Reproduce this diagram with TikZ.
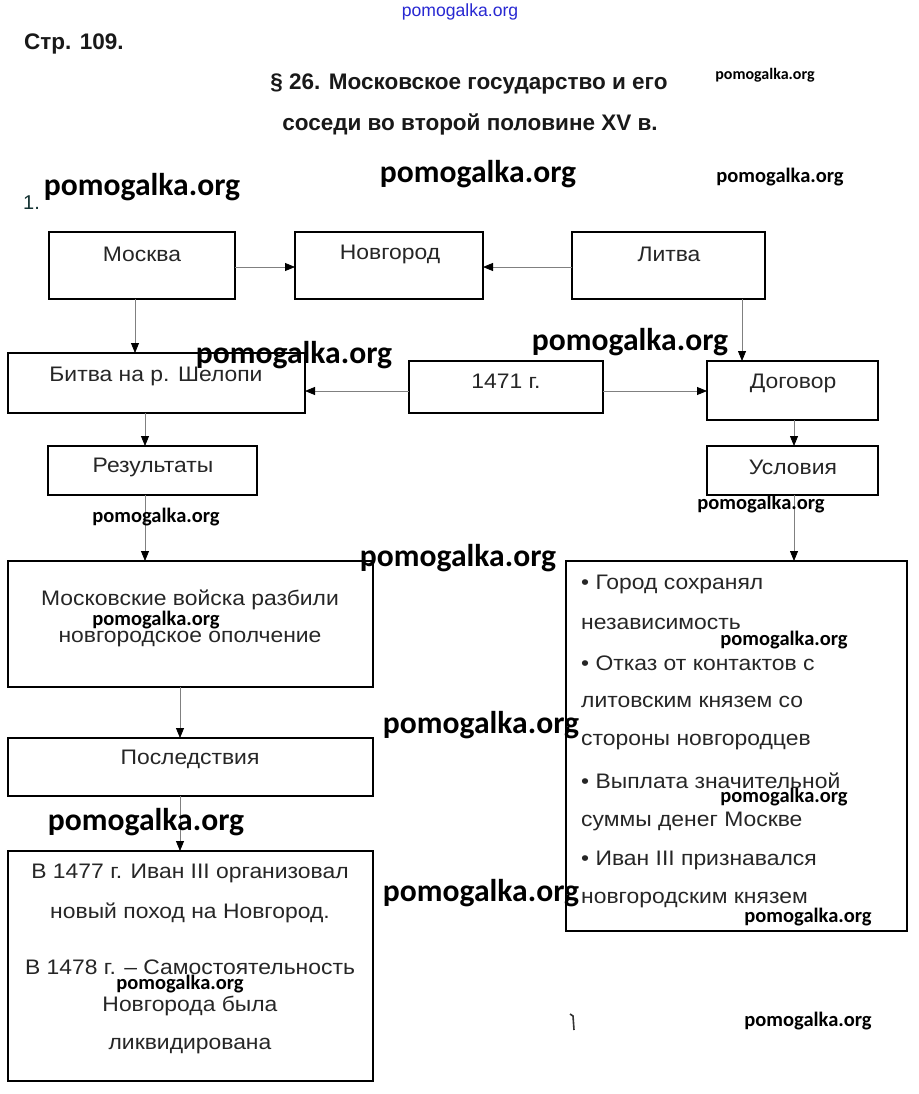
\documentclass[tikz,border=0pt]{standalone}
\usepackage{fontspec}
\setmainfont{Liberation Sans}
\newfontfamily\boxfont{Liberation Sans}[FakeStretch=1.09]
\newfontfamily\wmfont{Carlito}
\usetikzlibrary{arrows.meta}
\newcommand\mkbox[5]{\node[box, minimum width={#4-#2}, minimum height={#5-#3}] (#1) at ({(#2+#4)/2},{(#3+#5)/2}) {};}
\begin{document}
\begin{tikzpicture}[x=1pt,y=-1pt,
  box/.style={draw=black, line width=1.8pt, inner sep=0pt, outer sep=0pt},
  txt/.style={font=\boxfont\fontsize{21}{25}\selectfont, text=black!85, inner sep=0pt},
  head/.style={font=\bfseries\fontsize{22.5}{26}\selectfont, text=black!90, inner sep=0pt},
  conn/.style={draw=black!50, line width=0.8pt, -{Triangle[length=10pt,width=8pt,color=black]}},
  wmL/.style={font=\wmfont\bfseries\fontsize{31.6}{31.6}\selectfont, inner sep=0pt},
  wmS/.style={font=\wmfont\bfseries\fontsize{20.5}{20.5}\selectfont, inner sep=0pt},
  wmT/.style={font=\wmfont\bfseries\fontsize{16}{16}\selectfont, inner sep=0pt}]
\useasboundingbox[fill=white] (0,0) rectangle (918,1094);

% headings
\node[font=\fontsize{17.6}{17.6}\selectfont, text={rgb,255:red,40;green,40;blue,210}, inner sep=0pt] (wmtop) at (460,12) {pomogalka.org};
\node[head, anchor=west] (page) at (24,44) {Стр. 109.};
\node[head] (title1) at (469,84) {§ 26. Московское государство и его};
\node[head] (title2) at (470,124) {соседи во второй половине XV в.};
\node[font=\fontsize{20}{20}\selectfont, text={rgb,255:red,20;green,50;blue,50}, inner sep=0pt, anchor=west] (num) at (23,203) {1.};

% boxes
\mkbox{moskva}{49}{232}{235}{299}
\mkbox{novgorod}{295}{232}{483}{299}
\mkbox{litva}{572}{232}{765}{299}
\mkbox{bitva}{8}{353}{305}{413}
\mkbox{y1471}{409}{361}{603}{413}
\mkbox{dogovor}{707}{361}{878}{420}
\mkbox{result}{48}{446}{257}{495}
\mkbox{uslov}{707}{446}{878}{495}
\mkbox{voiska}{8}{561}{373}{687}
\mkbox{spisok}{566}{561}{907}{931}
\mkbox{posled}{8}{738}{373}{796}
\mkbox{itog}{8}{851}{373}{1081}

% box texts
\node[txt] (tmoskva) at (142,254) {Москва};
\node[txt] (tnovgorod) at (390,254) {Новгород};
\node[txt] (tlitva) at (669,254) {Литва};
\node[txt] (tbitva) at (156,376) {Битва на р. Шелопи};
\node[txt] (t1471) at (506,381) {1471 г.};
\node[txt] (tdogovor) at (793,383) {Договор};
\node[txt] (tresult) at (153,467) {Результаты};
\node[txt] (tuslov) at (793,467) {Условия};
\node[txt] (tv1) at (190,600) {Московские войска разбили};
\node[txt] (tv2) at (190,639) {новгородское ополчение};
\node[txt] (tposled) at (190,759) {Последствия};
\node[txt] (ti1) at (190,873) {В 1477 г. Иван III организовал};
\node[txt] (ti2) at (190,913) {новый поход на Новгород.};
\node[txt] (ti3) at (190,967) {В 1478 г. – Самостоятельность};
\node[txt] (ti4) at (190,1006) {Новгорода была};
\node[txt] (ti5) at (190,1046) {ликвидирована};
\node[txt, anchor=west] (s1) at (581,584) {• Город сохранял};
\node[txt, anchor=west] (s2) at (581,624) {независимость};
\node[txt, anchor=west] (s3) at (581,663) {• Отказ от контактов с};
\node[txt, anchor=west] (s4) at (581,702) {литовским князем со};
\node[txt, anchor=west] (s5) at (581,742) {стороны новгородцев};
\node[txt, anchor=west] (s6) at (581,781) {• Выплата значительной};
\node[txt, anchor=west] (s7) at (581,821) {суммы денег Москве};
\node[txt, anchor=west] (s8) at (581,860) {• Иван III признавался};
\node[txt, anchor=west] (s9) at (581,900) {новгородским князем};

% connectors
\draw[conn] (moskva.east |- 0,267) -- (novgorod.west |- 0,267);
\draw[conn] (litva.west |- 0,267) -- (novgorod.east |- 0,267);
\draw[conn] (moskva.south -| 135,0) -- (bitva.north -| 135,0);
\draw[conn] (litva.south -| 742,0) -- (dogovor.north -| 742,0);
\draw[conn] (y1471.west |- 0,391) -- (bitva.east |- 0,391);
\draw[conn] (y1471.east |- 0,391) -- (dogovor.west |- 0,391);
\draw[conn] (bitva.south -| 145,0) -- (result.north -| 145,0);
\draw[conn] (dogovor.south -| 794,0) -- (uslov.north -| 794,0);
\draw[conn] (result.south -| 145,0) -- (voiska.north -| 145,0);
\draw[conn] (uslov.south -| 794,0) -- (spisok.north -| 794,0);
\draw[conn] (voiska.south -| 180,0) -- (posled.north -| 180,0);
\draw[conn] (posled.south -| 180,0) -- (itog.north -| 180,0);

% stray mark
\draw[line width=1.6pt, black!80] (570,1014) -- (573,1016) -- (574,1030);

% watermarks
\node[wmT] (w1) at (765,75) {pomogalka.org};
\node[wmL] (w2) at (142,187) {pomogalka.org};
\node[wmL] (w3) at (478,174) {pomogalka.org};
\node[wmS] (w4) at (780,177) {pomogalka.org};
\node[wmL] (w5) at (294,355) {pomogalka.org};
\node[wmL] (w6) at (630,342) {pomogalka.org};
\node[wmS] (w7) at (156,517) {pomogalka.org};
\node[wmS] (w8) at (761,504) {pomogalka.org};
\node[wmL] (w9) at (458,558) {pomogalka.org};
\node[wmS] (w10) at (156,620) {pomogalka.org};
\node[wmS] (w11) at (784,640) {pomogalka.org};
\node[wmL] (w12) at (481,725) {pomogalka.org};
\node[wmS] (w13) at (784,797) {pomogalka.org};
\node[wmL] (w14) at (146,822) {pomogalka.org};
\node[wmL] (w15) at (481,893) {pomogalka.org};
\node[wmS] (w16) at (808,917) {pomogalka.org};
\node[wmS] (w17) at (180,984) {pomogalka.org};
\node[wmS] (w18) at (808,1021) {pomogalka.org};
\end{tikzpicture}
\end{document}
